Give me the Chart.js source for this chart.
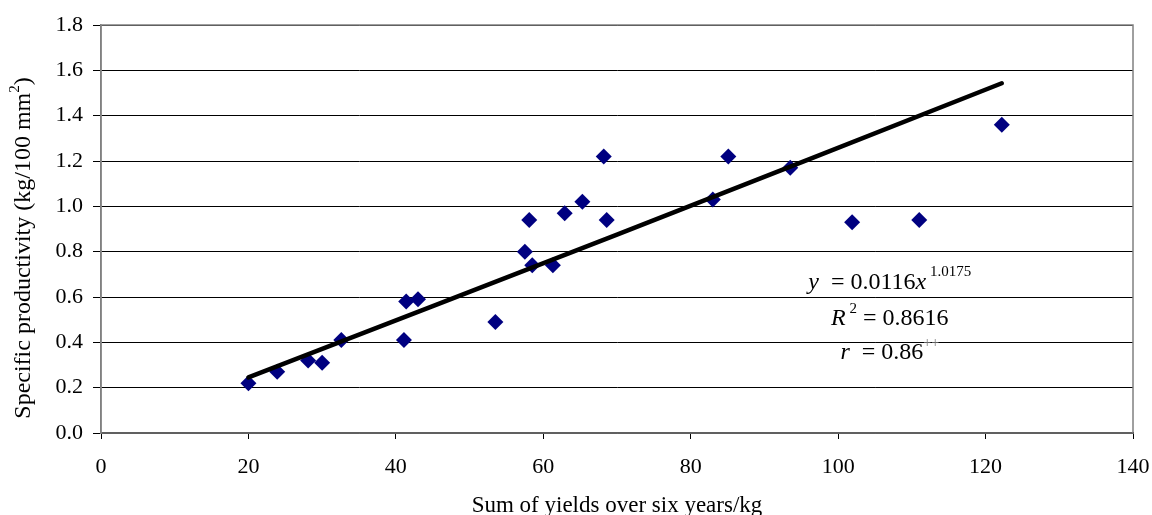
<!DOCTYPE html>
<html>
<head>
<meta charset="utf-8">
<script src="https://cdn.jsdelivr.net/npm/chart.js@4.4.1/dist/chart.umd.min.js"></script>
<style>
  html, body { margin: 0; padding: 0; background: #fff; }
  #wrap { width: 1152px; height: 515px; }
</style>
</head>
<body>
<div id="wrap"><canvas id="scatterChart" width="1152" height="515"></canvas></div>
<script>
// sum of yields over six years (kg)
var yields = [20.0, 23.9, 28.1, 30.0, 32.6, 41.1, 41.4, 43.0, 53.5, 57.5, 58.1, 58.5,
              61.3, 62.9, 65.3, 68.2, 68.6, 83.0, 85.1, 93.5, 101.9, 111.0, 122.2];
// specific productivity (kg/100 mm2)
var productivity = [0.22, 0.27, 0.32, 0.31, 0.41, 0.41, 0.58, 0.59, 0.49, 0.80, 0.94, 0.74,
                    0.74, 0.97, 1.02, 1.22, 0.94, 1.03, 1.22, 1.17, 0.93, 0.94, 1.36];
// power trend line
var trendX = [20.0, 70.0, 122.2];
var trendY = [0.245, 0.875, 1.543];
var xTicks = [0, 20, 40, 60, 80, 100, 120, 140];
var yTicks = [0.0, 0.2, 0.4, 0.6, 0.8, 1.0, 1.2, 1.4, 1.6, 1.8];

var serif = "'Liberation Serif', 'Times New Roman', serif";

var points = yields.map(function(x, i) { return { x: x, y: productivity[i] }; });
var trend = trendX.map(function(x, i) { return { x: x, y: trendY[i] }; });

// frame, y title and the equation text
var extras = {
  id: 'extras',
  beforeDatasetsDraw: function(chart) {
    var ctx = chart.ctx, a = chart.chartArea;
    ctx.save();
    ctx.strokeStyle = '#808080';
    ctx.lineWidth = 1.5;
    ctx.strokeRect(a.left, a.top, a.right - a.left, a.bottom - a.top);
    ctx.restore();
  },
  afterDraw: function(chart) {
    var ctx = chart.ctx, a = chart.chartArea;
    var xs = chart.scales.x, ys = chart.scales.y;
    ctx.save();
    // y axis title
    ctx.translate(24, (a.top + a.bottom) / 2 + 19);
    ctx.rotate(-Math.PI / 2);
    ctx.fillStyle = '#000';
    ctx.textBaseline = 'middle';
    ctx.font = '24px ' + serif;
    var t1 = 'Specific productivity (kg/100 mm';
    var w1 = ctx.measureText(t1).width;
    ctx.font = '15px ' + serif;
    var w2 = ctx.measureText('2').width;
    ctx.font = '24px ' + serif;
    var w3 = ctx.measureText(')').width;
    var start = -(w1 + w2 + w3) / 2;
    ctx.textAlign = 'left';
    ctx.fillText(t1, start, 0);
    ctx.font = '15px ' + serif;
    ctx.fillText('2', start + w1, -9);
    ctx.font = '24px ' + serif;
    ctx.fillText(')', start + w1 + w2, 0);
    ctx.restore();

    // equation lines
    var cx = xs.getPixelForValue(107);
    var lines = [
      { y: 0.635, parts: [['y', 'italic', 0], ['  = 0.0116', '', 0], ['x', 'italic', 0], [' 1.0175', 'small', -13]] },
      { y: 0.476, parts: [['R', 'italic', 0], [' 2', 'small', -12], [' = 0.8616', '', 0]] },
      { y: 0.326, parts: [['r', 'italic', 0], ['  = 0.86', '', 0], ['++', 'tiny', -12]] }
    ];
    ctx.save();
    ctx.textBaseline = 'alphabetic';
    ctx.textAlign = 'left';
    lines.forEach(function(line) {
      var total = 0;
      line.parts.forEach(function(p) {
        ctx.font = fontFor(p[1]);
        p.w = ctx.measureText(p[0]).width;
        total += p.w;
      });
      var px = cx - total / 2;
      var py = ys.getPixelForValue(line.y);
      line.parts.forEach(function(p) {
        ctx.font = fontFor(p[1]);
        ctx.fillStyle = p[1] === 'tiny' ? '#777' : '#000';
        ctx.fillText(p[0], px, py + p[2]);
        px += p.w;
      });
    });
    ctx.restore();
  }
};

function fontFor(style) {
  if (style === 'italic') return 'italic 24px ' + serif;
  if (style === 'small') return '15px ' + serif;
  if (style === 'tiny') return '14px ' + serif;
  return '24px ' + serif;
}

var ctx = document.getElementById('scatterChart').getContext('2d');
var chart = new Chart(ctx, {
  type: 'scatter',
  data: {
    datasets: [
      {
        label: 'Trend',
        type: 'line',
        data: trend,
        borderColor: '#000',
        borderWidth: 4.5,
        pointRadius: 0,
        fill: false,
        tension: 0.4,
        borderCapStyle: 'round',
        order: 1
      },
      {
        label: 'Productivity',
        data: points,
        pointStyle: 'rectRot',
        pointRadius: 8,
        pointBackgroundColor: '#000080',
        pointBorderColor: '#000080',
        pointBorderWidth: 0,
        order: 2
      }
    ]
  },
  options: {
    responsive: false,
    animation: false,
    layout: { padding: { top: 25, right: 19, bottom: 0, left: 0 } },
    plugins: { legend: { display: false }, tooltip: { enabled: false } },
    scales: {
      x: {
        type: 'linear',
        min: 0,
        max: 140,
        afterBuildTicks: function(s) { s.ticks = xTicks.map(function(v) { return { value: v }; }); },
        afterFit: function(s) { s.height = 82; s.paddingLeft = 0; s.paddingRight = 0; },
        ticks: { color: '#000', font: { family: serif, size: 22 }, padding: 15, maxRotation: 0 },
        grid: { drawOnChartArea: false, drawTicks: true, tickLength: 6, color: '#000' },
        border: { display: true, color: '#000', width: 1.5 },
        title: {
          display: true,
          text: 'Sum of yields over six years/kg',
          color: '#000',
          font: { family: serif, size: 23, lineHeight: 1.0 },
          padding: { top: 0, bottom: -2 }
        }
      },
      y: {
        min: 0,
        max: 1.8,
        afterBuildTicks: function(s) { s.ticks = yTicks.map(function(v) { return { value: v }; }); },
        afterFit: function(s) { s.width = 101; s.paddingTop = 0; s.paddingBottom = 0; },
        ticks: {
          color: '#000',
          font: { family: serif, size: 22 },
          padding: 10,
          callback: function(v) { return v.toFixed(1); }
        },
        grid: { color: '#000', lineWidth: 1, tickLength: 8 },
        border: { display: true, color: '#808080', width: 1.5 }
      }
    }
  },
  plugins: [extras]
});
</script>
</body>
</html>
